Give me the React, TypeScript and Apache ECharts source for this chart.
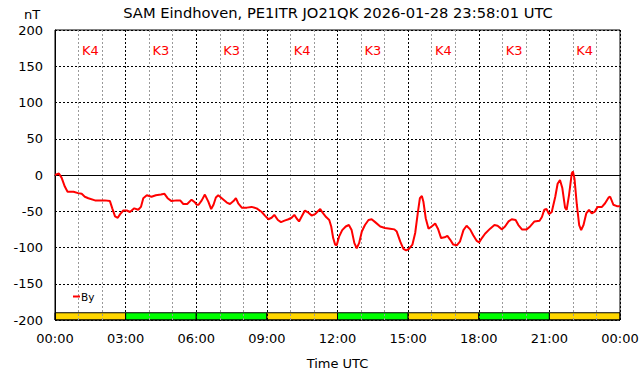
import React, { useEffect, useRef } from "react";
import * as echarts from "echarts";

const titleText = "SAM Eindhoven, PE1ITR JO21QK 2026-01-28 23:58:01 UTC";
const seriesName = "By";

// time in minutes since 00:00 UTC
const byTimes = [
  0, 10, 17, 25, 32, 47, 59, 68, 76, 85, 102, 127, 140, 146, 153, 160, 166, 174, 183, 191,
  202, 212, 219, 225, 234, 246, 257, 270, 279, 287, 297, 310, 319, 327, 337, 348, 357, 361, 366, 374,
  382, 391, 398, 404, 410, 416, 425, 438, 446, 455, 461, 467, 476, 489, 501, 514, 527, 535, 544, 552,
  559, 568, 576, 585, 595, 603, 610, 616, 622, 629, 637, 646, 654, 663, 670, 676, 682, 691, 699, 704,
  709, 714, 718, 724, 732, 741, 749, 756, 763, 769, 775, 782, 790, 799, 807, 816, 829, 841, 854, 865,
  871, 880, 888, 895, 902, 911, 918, 925, 930, 935, 939, 945, 952, 960, 969, 976, 984, 993, 1000, 1007,
  1015, 1024, 1032, 1041, 1049, 1058, 1066, 1075, 1081, 1088, 1096, 1109, 1120, 1128, 1139, 1147, 1156, 1164, 1174, 1181,
  1190, 1202, 1211, 1222, 1235, 1241, 1247, 1253, 1259, 1266, 1275, 1281, 1287, 1293, 1300, 1304, 1310, 1317, 1320, 1324,
  1330, 1336, 1341, 1347, 1354, 1361, 1368, 1375, 1383, 1394, 1402, 1411, 1415, 1423, 1432, 1440,
];
const byValues = [
  0, 2, -4, -16, -23, -23, -25, -26, -30, -32, -35, -35, -36, -46, -57, -59, -54, -49, -49, -51,
  -46, -48, -44, -32, -28, -30, -28, -27, -26, -32, -36, -35, -35, -40, -40, -34, -38, -41, -41, -35,
  -27, -37, -47, -41, -31, -28, -32, -38, -40, -36, -32, -39, -45, -45, -44, -46, -51, -56, -61, -59,
  -55, -62, -65, -63, -61, -59, -55, -60, -64, -57, -49, -52, -56, -54, -50, -47, -52, -58, -62, -71,
  -87, -96, -97, -85, -76, -71, -69, -76, -94, -101, -94, -78, -69, -62, -61, -65, -71, -73, -74, -75,
  -78, -92, -102, -104, -102, -96, -80, -51, -32, -29, -37, -60, -74, -71, -67, -74, -87, -86, -84, -89,
  -96, -97, -92, -76, -70, -75, -83, -91, -93, -87, -81, -74, -69, -70, -75, -71, -64, -61, -62, -69,
  -75, -75, -71, -64, -63, -58, -48, -47, -54, -51, -30, -12, -7, -18, -45, -48, -28, 2, 5, -5,
  -41, -69, -76, -69, -53, -48, -53, -51, -44, -44, -39, -31, -30, -41, -43, -43,
];

// K-index blocks: start minute of each 3-hour block and its K value
const kStarts = [0, 180, 360, 540, 720, 900, 1080, 1260];
const kValues = [4, 3, 3, 4, 3, 4, 3, 4];

const yTicksMin = -200;
const yTicksMax = 200;

function fmtTime(v: number): string {
  const h = Math.round(v / 60) % 24;
  return (h < 10 ? "0" : "") + h + ":00";
}

export default function App() {
  const ref = useRef<HTMLDivElement>(null);
  useEffect(() => {
    if (!ref.current) return;
    const chart = echarts.init(ref.current, undefined, { renderer: "svg" });
    const font = "DejaVu Sans";
    const lineData = byTimes.map((t, i) => [t, byValues[i]]);
    const kData = kStarts.map((s, i) => [s, kValues[i]]);
    chart.setOption({
      animation: false,
      backgroundColor: "#ffffff",
      textStyle: { fontFamily: font },
      title: [
        {
          text: titleText,
          left: 333,
          textAlign: "center",
          top: 0,
          textStyle: { fontFamily: font, fontSize: 14.7, fontWeight: "normal", color: "#000" },
        },
        {
          text: "nT",
          left: 19,
          top: 3,
          textStyle: { fontFamily: font, fontSize: 13, fontWeight: "normal", color: "#000" },
        },
      ],
      legend: {
        show: true,
        left: 73,
        top: 291,
        padding: 0,
        orient: "vertical",
        itemWidth: 7,
        itemHeight: 2,
        itemGap: 0,
        icon: "rect",
        data: [{ name: seriesName, icon: "rect" }],
        textStyle: { fontFamily: font, fontSize: 10.5, color: "#000", padding: [0, 0, 0, -4] },
      },
      grid: {
        left: 55,
        right: 22,
        top: 30,
        bottom: 56,
        show: true,
        borderColor: "#000",
        borderWidth: 1,
        backgroundColor: "transparent",
      },
      xAxis: {
        type: "value",
        min: 0,
        max: 1440,
        interval: 180,
        name: "Time UTC",
        nameLocation: "middle",
        nameGap: 37,
        nameTextStyle: { fontFamily: font, fontSize: 13, color: "#000" },
        axisLine: { show: true, lineStyle: { color: "#000", width: 1 } },
        axisTick: { show: false },
        minorTick: { show: false, splitNumber: 3 },
        axisLabel: {
          formatter: fmtTime,
          fontFamily: font,
          fontSize: 13,
          color: "#000",
          margin: 12,
        },
        splitLine: { show: true, lineStyle: { color: "#000", type: [2, 2], width: 1 } },
        minorSplitLine: { show: true, lineStyle: { color: "#999", type: [2, 2], width: 1 } },
      },
      yAxis: {
        type: "value",
        min: yTicksMin,
        max: yTicksMax,
        interval: 50,
        axisLine: { show: true, lineStyle: { color: "#000", width: 1 } },
        axisTick: { show: false },
        axisLabel: { fontFamily: font, fontSize: 13, color: "#000", margin: 12 },
        splitLine: { show: true, lineStyle: { color: "#000", type: [2, 2], width: 1 } },
      },
      series: [
        {
          type: "custom",
          name: "K",
          z: -1,
          silent: true,
          data: kData,
          renderItem: (params: any, api: any) => {
            const start = api.value(0);
            const k = api.value(1);
            const p0 = api.coord([start, -190]);
            const p1 = api.coord([start + 180, -200]);
            const pt = api.coord([start + 90, 172]);
            return {
              type: "group",
              children: [
                {
                  type: "rect",
                  shape: { x: p0[0], y: p0[1], width: p1[0] - p0[0], height: p1[1] - p0[1] },
                  style: { fill: k >= 4 ? "#ffd700" : "#00ff00", stroke: "#000", lineWidth: 1 },
                },
                {
                  type: "text",
                  x: pt[0],
                  y: pt[1],
                  style: {
                    text: "K" + k,
                    fill: "#ff0000",
                    font: "13px DejaVu Sans",
                    align: "center",
                    verticalAlign: "middle",
                  },
                },
              ],
            };
          },
        },
        {
          type: "line",
          name: seriesName,
          data: lineData,
          showSymbol: false,
          symbol: "none",
          lineStyle: { color: "#ff0000", width: 2 },
          itemStyle: { color: "#ff0000" },
          z: 5,
        },
      ],
    });
    return () => chart.dispose();
  }, []);
  return <div ref={ref} style={{ width: 642, height: 376, position: "absolute", left: 0, top: 0 }} />;
}
